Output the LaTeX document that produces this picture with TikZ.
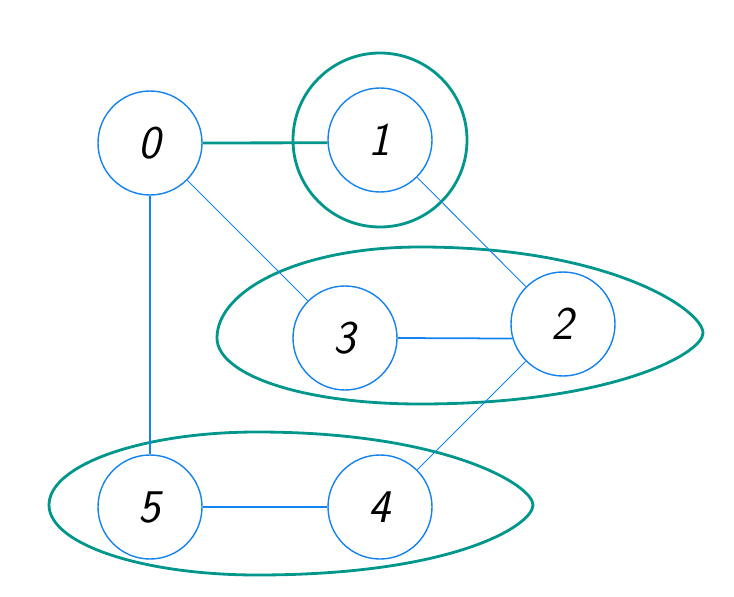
\documentclass[tikz,border=0pt]{standalone}
\usepackage{tikz}
\usetikzlibrary{arrows}
\usetikzlibrary{arrows.meta}
\usepackage{xcolor}
\definecolor{nodeblue}{RGB}{20,130,240}
\definecolor{groupteal}{RGB}{0,150,140}

\begin{document}
\begin{tikzpicture}[x=0.03cm,y=-0.03cm]
\tikzstyle{vertex} =[circle, draw=nodeblue, line width=1.2pt, minimum size=3.12cm, inner sep=0pt, font=\fontsize{40}{40}\selectfont\sffamily\slshape]
\tikzstyle{group} =[draw=groupteal, line width=2.4pt]
\tikzstyle{thinedge} =[draw=nodeblue, line width=0.8pt]
\tikzstyle{midedge} =[draw=nodeblue, line width=1.5pt]
\useasboundingbox (0,0) rectangle (734,597);

\node[vertex](v0) at (150,143){0};
\node[vertex](v1) at (380,140){1};
\node[vertex](v2) at (563,324){2};
\node[vertex](v3) at (345,338){3};
\node[vertex](v4) at (380,507){4};
\node[vertex](v5) at (150,507){5};

% groups
\draw [group] (v1.center) circle (87);
\draw [group] (217,338) .. controls (217,290) and (300,247) .. (420,247)
  .. controls (610,247) and (703,310) .. (703,333)
  .. controls (703,354) and (610,404) .. (420,404)
  .. controls (300,404) and (217,374) .. cycle;
\draw [group] (49,505) .. controls (49,465) and (142,432) .. (257,432)
  .. controls (445,432) and (533,485) .. (533,505)
  .. controls (533,525) and (455,575) .. (257,575)
  .. controls (142,575) and (49,544) .. cycle;

% edges
\draw [group] (v0.east) to (v1.183);
\draw [midedge] (v0) to (v5);
\draw [thinedge] (v0) to (v3);
\draw [thinedge] (v1) to (v2);
\draw [midedge] (v3.east) to (v2.196);
\draw [thinedge] (v2) to (v4);
\draw [midedge] (v5) to (v4);
\end{tikzpicture}
\end{document}
